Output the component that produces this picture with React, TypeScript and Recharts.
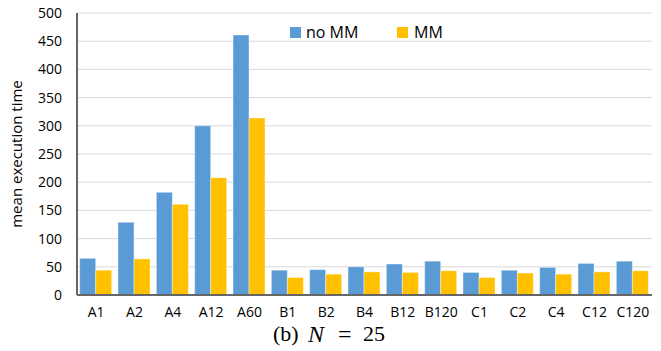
import React from 'react';
import { BarChart, Bar, XAxis, YAxis, CartesianGrid } from 'recharts';

const categories = ['A1', 'A2', 'A4', 'A12', 'A60', 'B1', 'B2', 'B4', 'B12', 'B120', 'C1', 'C2', 'C4', 'C12', 'C120'];
const noMM = [65, 129, 182, 300, 461, 44, 45, 50, 55, 60, 40, 44, 49, 56, 60];
const withMM = [44, 64, 161, 208, 314, 31, 37, 41, 40, 43, 31, 39, 37, 41, 43];
const yTicks = [0, 50, 100, 150, 200, 250, 300, 350, 400, 450, 500];
const seriesNames = ['no MM', 'MM'];

const data = categories.map((name, i) => ({ name, noMM: noMM[i], MM: withMM[i] }));

const BLUE = '#5B9BD5';
const YELLOW = '#FFC000';
const FRAME = '#666666';
const FONT = '"Open Sans", sans-serif';

const abs = (left: number, top: number, extra: React.CSSProperties = {}): React.CSSProperties => ({
  position: 'absolute',
  left,
  top,
  whiteSpace: 'nowrap',
  ...extra,
});

export default function App() {
  return (
    <div style={{ position: 'absolute', left: 0, top: 0, width: 661, height: 351, background: '#fff' }}>
      <BarChart
        width={661}
        height={351}
        data={data}
        margin={{ top: 13, right: 9, bottom: 26, left: 0 }}
        barCategoryGap="7%"
        barGap={0}
      >
        <CartesianGrid vertical={false} stroke="#d9d9d9" strokeWidth={1} />
        <XAxis
          dataKey="name"
          height={30}
          axisLine={{ stroke: FRAME, strokeWidth: 2 }}
          tickLine={false}
          tickSize={6}
          tickMargin={6}
          interval={0}
          tick={{ fill: '#000', fontSize: 14, fontFamily: FONT }}
        />
        <XAxis
          xAxisId="t"
          dataKey="name"
          orientation="top"
          height={0}
          tick={false}
          tickLine={false}
          axisLine={{ stroke: FRAME, strokeWidth: 1.5 }}
        />
        <YAxis
          width={77}
          domain={[0, 500]}
          ticks={yTicks}
          interval={0}
          axisLine={{ stroke: FRAME, strokeWidth: 2 }}
          tickLine={false}
          tickSize={6}
          tickMargin={9}
          tick={{ fill: '#000', fontSize: 14, fontFamily: FONT }}
          label={{
            value: 'mean execution time',
            angle: -90,
            position: 'insideLeft',
            offset: 0,
            dx: 17,
            style: { textAnchor: 'middle', fontSize: 15, fontFamily: FONT, fill: '#000' },
          }}
        />
        <YAxis
          yAxisId="r"
          orientation="right"
          width={0}
          domain={[0, 500]}
          tick={false}
          tickLine={false}
          axisLine={{ stroke: FRAME, strokeWidth: 1.5 }}
        />
        <Bar dataKey="noMM" name={seriesNames[0]} fill={BLUE} stroke="#ffffff" strokeOpacity={0.5} strokeWidth={0.8} isAnimationActive={false} />
        <Bar dataKey="MM" name={seriesNames[1]} fill={YELLOW} stroke="#ffffff" strokeOpacity={0.5} strokeWidth={0.8} isAnimationActive={false} />
      </BarChart>

      <div style={{ fontFamily: FONT, fontSize: 16, color: '#000', lineHeight: '20px' }}>
        <span style={abs(290, 27, { width: 11, height: 11, background: BLUE })} />
        <span style={abs(306, 22)}>{seriesNames[0]}</span>
        <span style={abs(397, 27, { width: 11, height: 11, background: YELLOW })} />
        <span style={abs(414, 22)}>{seriesNames[1]}</span>
      </div>

      <div style={{ fontFamily: '"Liberation Serif", serif', fontSize: 22, lineHeight: '24px', color: '#000' }}>
        <span style={abs(273, 322)}>(b)</span>
        <span style={abs(308, 322, { fontStyle: 'italic', fontSize: 24 })}>N</span>
        <span style={abs(338, 322, { fontSize: 24 })}>=</span>
        <span style={abs(363, 322)}>25</span>
      </div>
    </div>
  );
}
